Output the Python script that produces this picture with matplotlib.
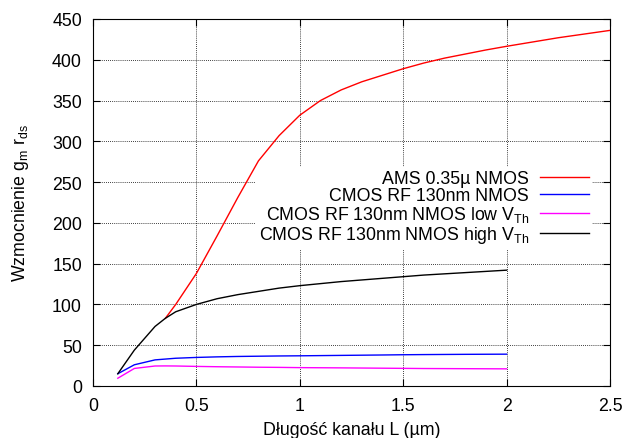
import numpy as np
import matplotlib
matplotlib.use('Agg')
import matplotlib.pyplot as plt

plt.rcParams['font.family'] = ['Liberation Sans', 'DejaVu Sans']
plt.rcParams['mathtext.fontset'] = 'custom'
plt.rcParams['mathtext.rm'] = 'Liberation Sans'
plt.rcParams['mathtext.it'] = 'Liberation Sans'
plt.rcParams['font.size'] = 12.8

# AMS 0.35u NMOS
L_ams = [0.35, 0.4, 0.5, 0.6, 0.7, 0.8, 0.9, 1.0, 1.1, 1.2, 1.3, 1.4, 1.5,
         1.6, 1.7, 1.8, 1.9, 2.0, 2.25, 2.5]
A_ams = [83, 100, 138, 184, 231, 276, 307, 332, 350, 363, 373, 381, 389,
         396, 402, 407, 412, 416.5, 427, 436]

# CMOS RF 130nm
L_rf = [0.12, 0.2, 0.3, 0.35, 0.4, 0.5, 0.6, 0.7, 0.8, 0.9, 1.0, 1.2, 1.4,
        1.5, 1.6, 1.8, 2.0]
A_rf = [15, 26, 32, 33, 34, 35, 35.7, 36.2, 36.5, 36.8, 37, 37.5, 38,
        38.3, 38.5, 38.8, 39]
A_low = [9.5, 21.5, 24.5, 24.6, 24.5, 24, 23.6, 23.3, 23, 22.8, 22.5, 22.2,
         21.8, 21.6, 21.4, 21.2, 21]
A_high = [15, 44, 73, 83, 91, 100, 107, 112, 116, 120, 123, 128, 132,
          134, 136, 139, 142]

fig = plt.figure(figsize=(6.25, 4.39), dpi=100)
ax = fig.add_axes([0.1488, 0.1185, 0.8272, 0.836])

ax.plot(L_ams, A_ams, color='red', lw=1.0, zorder=3, label=r'AMS 0.35µ NMOS')
ax.plot(L_rf, A_rf, color='blue', lw=1.0, zorder=3, label='CMOS RF 130nm NMOS')
ax.plot(L_rf, A_low, color='magenta', lw=1.0, zorder=3,
        label=r'CMOS RF 130nm NMOS low $\mathregular{V_{Th}}$')
ax.plot(L_rf, A_high, color='black', lw=1.0, zorder=3,
        label=r'CMOS RF 130nm NMOS high $\mathregular{V_{Th}}$')

ax.set_xlim(0, 2.5)
ax.set_ylim(0, 450)
ax.set_xticks(np.arange(0, 2.51, 0.5))
ax.set_xticklabels(['0', '0.5', '1', '1.5', '2', '2.5'])
ax.set_yticks(np.arange(0, 451, 50))
ax.tick_params(direction='in', top=True, right=True, length=5, width=0.8,
               labelsize=12.8)
ax.tick_params(axis='x', pad=8)
ax.tick_params(axis='y', pad=8)
ax.grid(True, color='black', linestyle=(0, (1, 1.5)), linewidth=0.6)
ax.set_axisbelow(True)

ax.set_xlabel('Długość kanału L (µm)', fontsize=12.8, labelpad=5)
ax.set_ylabel(r'Wzmocnienie $\mathregular{g_m\ r_{ds}}$', fontsize=12.8,
              labelpad=15)

leg = ax.legend(loc='upper right', bbox_to_anchor=(0.983, 0.622),
                markerfirst=False, frameon=True, fancybox=False,
                framealpha=1, edgecolor='none', facecolor='white',
                handlelength=2.75, labelspacing=0.0, fontsize=12.8,
                borderpad=0.2, handletextpad=0.6)
leg.set_zorder(2.5)

fig.savefig('out.png', dpi=100)
